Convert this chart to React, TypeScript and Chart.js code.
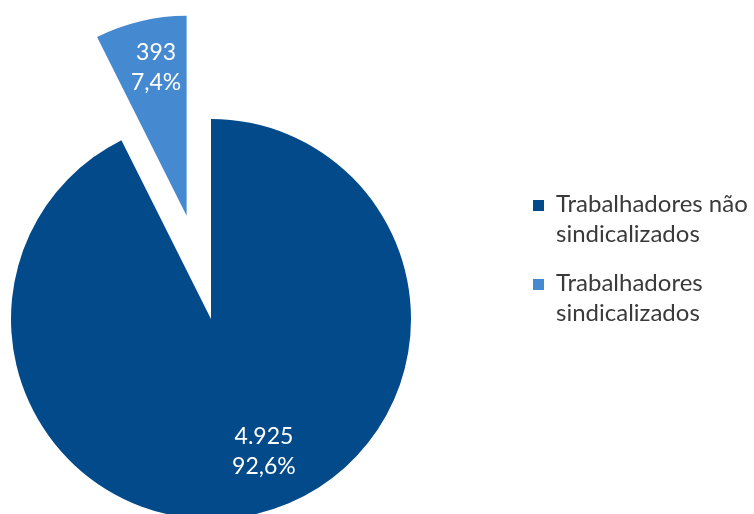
import React, { useEffect, useRef } from "react";
import { Chart, registerables } from "chart.js";

Chart.register(...registerables);

const categories = ["Trabalhadores não sindicalizados", "Trabalhadores sindicalizados"];
const legendLines = [["Trabalhadores não", "sindicalizados"], ["Trabalhadores", "sindicalizados"]];
const values = [4925, 393];
const colors = ["#034A8A", "#4589D0"];
const explodeDistance = [0, 106];
const labelRadius = [0.71, 0.76];
const labelAngleShift = [-0.15, 0.03];

const FONT = "Lato, 'Open Sans', sans-serif";

function fmtThousands(v: number) {
  return String(v).replace(/\B(?=(\d{3})+(?!\d))/g, ".");
}
function fmtPct(v: number) {
  return v.toFixed(1).replace(".", ",") + "%";
}

const explodePlugin = {
  id: "explode",
  afterDatasetsUpdate(chart: any) {
    const meta = chart.getDatasetMeta(0);
    meta.data.forEach((arc: any, i: number) => {
      const d = explodeDistance[i] || 0;
      if (!d) return;
      const mid = (arc.startAngle + arc.endAngle) / 2;
      arc.x += Math.cos(mid) * d;
      arc.y += Math.sin(mid) * d;
    });
  },
};

const labelPlugin = {
  id: "sliceLabels",
  afterDatasetsDraw(chart: any) {
    const ctx = chart.ctx;
    const meta = chart.getDatasetMeta(0);
    const total = values.reduce((a, b) => a + b, 0);
    ctx.save();
    ctx.fillStyle = "#ffffff";
    ctx.font = `23px ${FONT}`;
    ctx.textAlign = "center";
    ctx.textBaseline = "alphabetic";
    meta.data.forEach((arc: any, i: number) => {
      const mid = (arc.startAngle + arc.endAngle) / 2 + labelAngleShift[i];
      const r = arc.outerRadius * labelRadius[i];
      const cx = arc.x + Math.cos(mid) * r;
      const cy = arc.y + Math.sin(mid) * r;
      const lines = [fmtThousands(values[i]), fmtPct((values[i] / total) * 100)];
      ctx.fillText(lines[0], cx, cy - 7);
      ctx.fillText(lines[1], cx, cy + 23);
    });
    ctx.restore();
  },
};

export default function App() {
  const ref = useRef<HTMLCanvasElement>(null);
  useEffect(() => {
    if (!ref.current) return;
    const chart = new Chart(ref.current, {
      type: "pie",
      data: {
        labels: categories,
        datasets: [
          {
            data: values,
            backgroundColor: colors,
            borderWidth: 0,
            clip: false,
          } as any,
        ],
      },
      options: {
        animation: false,
        responsive: false,
        radius: 200,
        layout: { padding: { left: 0, right: 332, top: 124, bottom: 0 } },
        plugins: {
          legend: { display: false },
          tooltip: { enabled: false },
        },
        events: [],
      } as any,
      plugins: [explodePlugin, labelPlugin],
    });
    return () => chart.destroy();
  }, []);

  return (
    <div
      style={{
        position: "absolute",
        left: 0,
        top: 0,
        width: 754,
        height: 514,
        overflow: "hidden",
        background: "#ffffff",
      }}
    >
      <canvas ref={ref} width={754} height={514} style={{ position: "absolute", left: 0, top: 0 }} />
      {legendLines.map((lines, i) => (
        <div
          key={i}
          style={{
            position: "absolute",
            left: 533,
            top: 188 + i * 79,
            fontFamily: FONT,
            fontSize: 24,
            lineHeight: "30px",
            color: "#3a3a3a",
            whiteSpace: "nowrap",
          }}
        >
          <div
            style={{
              position: "absolute",
              left: 0,
              top: 12,
              width: 11,
              height: 11,
              background: colors[i],
            }}
          />
          <div style={{ marginLeft: 23 }}>
            {lines.map((l, j) => (
              <div key={j}>{l}</div>
            ))}
          </div>
        </div>
      ))}
    </div>
  );
}
